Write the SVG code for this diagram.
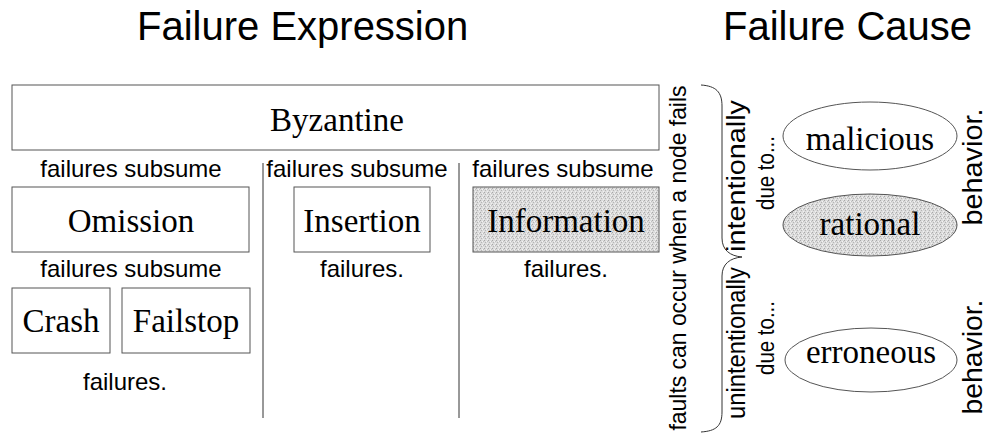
<svg xmlns="http://www.w3.org/2000/svg" width="989" height="439" viewBox="0 0 989 439">
  <defs>
    <!-- fine stipple used for the highlighted nodes -->
    <pattern id="stipple" width="4" height="4" patternUnits="userSpaceOnUse">
      <rect width="4" height="4" fill="#dcdcdc"/>
      <rect x="0" y="0" width="1" height="1" fill="#a8a8a8"/>
      <rect x="2" y="1" width="1" height="1" fill="#f4f4f4"/>
      <rect x="1" y="2" width="1" height="1" fill="#b4b4b4"/>
      <rect x="3" y="3" width="1" height="1" fill="#f0f0f0"/>
      <rect x="3" y="1" width="1" height="1" fill="#c0c0c0"/>
    </pattern>
  </defs>
  <style>
    .title { font-family: "Liberation Sans", Arial, sans-serif; font-size: 40px; fill: #000; }
    .label { font-family: "Liberation Sans", Arial, sans-serif; font-size: 24px; fill: #000; text-anchor: middle; }
    .side { font-size: 25px; }
    .small { font-size: 23px; }
    .big { font-size: 27px; }
    .node-text { font-family: "Liberation Serif", "Times New Roman", serif; font-size: 33px; fill: #000; text-anchor: middle; }
    .box { fill: #fff; stroke: #555; stroke-width: 1; }
    .shaded { fill: url(#stipple); stroke: #555; stroke-width: 1; }
    .rule { stroke: #333; stroke-width: 1; fill: none; }
  </style>

  <!-- headings -->
  <text class="title" x="137" y="40">Failure Expression</text>
  <text class="title" x="723" y="40">Failure Cause</text>

  <!-- failure expression hierarchy -->
  <g id="byzantine">
    <rect class="box" x="12" y="85" width="647" height="65"/>
    <text class="node-text" x="337" y="131">Byzantine</text>
  </g>

  <text class="label" x="131" y="177">failures subsume</text>
  <text class="label" x="357" y="177">failures subsume</text>
  <text class="label" x="563" y="177">failures subsume</text>

  <g id="omission">
    <rect class="box" x="12" y="187" width="237" height="65"/>
    <text class="node-text" x="131" y="232">Omission</text>
  </g>
  <g id="insertion">
    <rect class="box" x="294" y="187" width="136" height="65"/>
    <text class="node-text" x="362" y="232">Insertion</text>
  </g>
  <g id="information">
    <rect class="shaded" x="473" y="187" width="186" height="65"/>
    <text class="node-text" x="566" y="232">Information</text>
  </g>

  <text class="label" x="131" y="277">failures subsume</text>
  <text class="label" x="362" y="277">failures.</text>
  <text class="label" x="566" y="277">failures.</text>

  <g id="crash">
    <rect class="box" x="12" y="288" width="98" height="65"/>
    <text class="node-text" x="61" y="332">Crash</text>
  </g>
  <g id="failstop">
    <rect class="box" x="122" y="288" width="128" height="65"/>
    <text class="node-text" x="186" y="332">Failstop</text>
  </g>

  <text class="label" x="125" y="390">failures.</text>

  <!-- column separators and brace -->
  <g id="connectors">
    <line class="rule" x1="263" y1="163" x2="263" y2="418"/>
    <line class="rule" x1="459" y1="163" x2="459" y2="418"/>
    <path class="rule" d="M 701 85 C 716 86 722 92 722 106 L 722 238 C 722 250 730 256 742 257 C 730 258 722 264 722 276 L 722 412 C 722 426 716 431 701 432"/>
  </g>

  <!-- failure cause -->
  <text class="label" transform="translate(686 258) rotate(-90)" textLength="345" lengthAdjust="spacingAndGlyphs">faults can occur when a node fails</text>
  <text class="label side" transform="translate(745 176) rotate(-90)" textLength="152" lengthAdjust="spacingAndGlyphs">intentionally</text>
  <text class="label small" transform="translate(774 173) rotate(-90)" textLength="74" lengthAdjust="spacingAndGlyphs">due to...</text>
  <text class="label side" transform="translate(745 343) rotate(-90)" textLength="152" lengthAdjust="spacingAndGlyphs">unintentionally</text>
  <text class="label small" transform="translate(774 338) rotate(-90)" textLength="74" lengthAdjust="spacingAndGlyphs">due to...</text>

  <g id="malicious">
    <ellipse class="box" cx="870" cy="136" rx="87" ry="34"/>
    <text class="node-text" x="870" y="150">malicious</text>
  </g>
  <g id="rational">
    <ellipse class="shaded" cx="870" cy="225" rx="87" ry="31"/>
    <text class="node-text" x="870" y="235">rational</text>
  </g>
  <g id="erroneous">
    <ellipse class="box" cx="871" cy="360" rx="86" ry="32"/>
    <text class="node-text" x="871" y="363">erroneous</text>
  </g>

  <text class="label big" transform="translate(982 167) rotate(-90)" textLength="117" lengthAdjust="spacingAndGlyphs">behavior.</text>
  <text class="label big" transform="translate(982 357) rotate(-90)" textLength="115" lengthAdjust="spacingAndGlyphs">behavior.</text>
</svg>
